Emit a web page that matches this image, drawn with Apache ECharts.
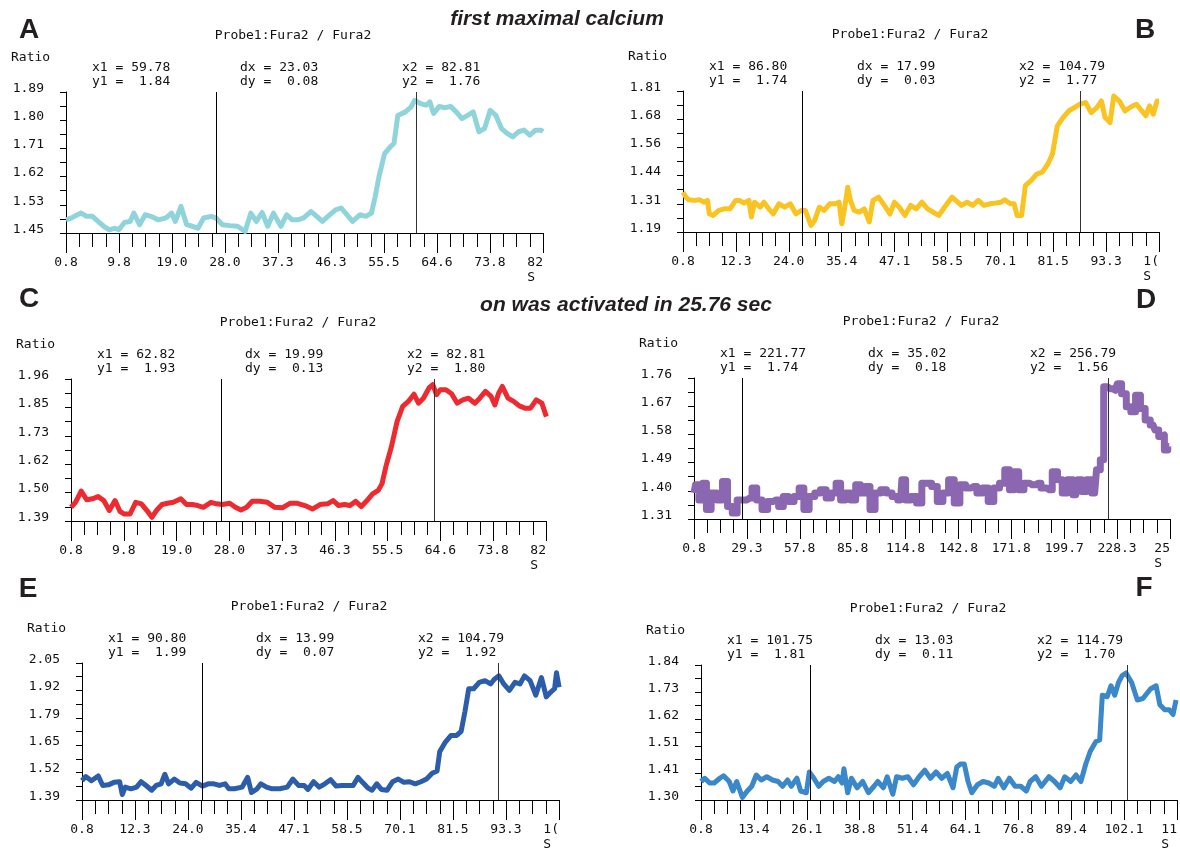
<!DOCTYPE html>
<html><head><meta charset="utf-8">
<script src="https://cdn.jsdelivr.net/npm/echarts@6/dist/echarts.min.js"></script>
<style>html,body{margin:0;padding:0;background:#fff}#c{width:1180px;height:852px}</style>
</head><body><div id="c"></div>
<script>
// ---------- Panel A ----------
const aTime=[0.8,1.77,2.75,3.40,4.37,5.34,6.32,7.29,8.26,9.24,9.89,10.86,11.83,12.48,13.46,14.43,15.40,16.70,18.0,18.97,19.62,20.59,21.57,22.54,23.52,24.49,25.79,26.63,27.73,29.03,30.33,31.63,32.60,33.57,34.55,35.52,36.50,37.79,38.77,39.74,40.71,41.69,42.99,43.96,44.93,46.23,47.20,48.18,49.15,50.12,51.42,52.40,53.37,54.02,54.67,55.64,56.61,57.26,57.91,59.21,60.18,60.83,61.81,62.78,63.43,64.08,65.05,66.02,67.0,67.97,68.95,69.92,70.89,71.87,72.84,73.81,74.79,75.76,76.73,77.71,78.68,79.65,80.63,81.60,82.57,82.90];
const aRatio=[1.491,1.497,1.507,1.512,1.502,1.502,1.486,1.471,1.460,1.465,1.460,1.483,1.486,1.512,1.476,1.507,1.502,1.491,1.497,1.512,1.486,1.533,1.476,1.471,1.465,1.497,1.502,1.497,1.476,1.473,1.471,1.455,1.512,1.486,1.514,1.471,1.512,1.471,1.507,1.491,1.491,1.497,1.517,1.502,1.486,1.507,1.522,1.528,1.507,1.486,1.507,1.502,1.512,1.564,1.626,1.698,1.719,1.730,1.817,1.828,1.843,1.864,1.854,1.849,1.859,1.823,1.845,1.841,1.845,1.828,1.807,1.817,1.828,1.766,1.776,1.833,1.817,1.776,1.761,1.750,1.766,1.771,1.755,1.771,1.771,1.766];
const aXLabels=['0.8','9.8','19.0','28.0','37.3','46.3','55.5','64.6','73.8','82'];
const aYLabels=['1.45','1.53','1.62','1.71','1.80','1.89'];
const aXMax=82.9;
const aCursors=[26.6,61.0];
const aReadout=['59.78','1.84','23.03','0.08','82.81','1.76'];

// ---------- Panel B ----------
const bTime=[0.8,1.46,2.03,3.27,4.50,5.32,6.14,6.55,7.38,8.61,9.84,11.08,12.31,13.13,14.12,15.19,15.76,16.42,17.65,18.47,19.54,20.53,21.76,22.99,24.23,25.46,26.69,27.52,28.75,29.57,30.56,31.63,32.86,34.09,34.91,35.49,36.15,36.80,37.38,38.20,39.27,40.42,41.49,42.31,43.54,44.78,46.01,47.0,48.07,49.30,50.53,51.76,53.0,54.23,55.46,56.70,57.93,59.57,60.81,61.63,62.86,64.09,65.33,66.56,67.79,69.03,70.26,71.08,72.31,73.14,73.79,74.78,75.60,76.84,78.07,79.30,80.53,81.52,82.59,83.82,85.06,86.29,87.52,88.75,89.99,91.22,92.21,93.03,94.10,94.92,96.15,97.39,98.62,99.85,101.08,101.91,102.73,103.55,104.37,104.78];
const bRatio=[1.365,1.343,1.332,1.329,1.332,1.321,1.329,1.270,1.263,1.285,1.292,1.292,1.329,1.329,1.317,1.329,1.256,1.321,1.299,1.321,1.292,1.270,1.314,1.299,1.314,1.270,1.285,1.285,1.219,1.241,1.299,1.285,1.314,1.314,1.321,1.226,1.299,1.387,1.329,1.285,1.277,1.292,1.234,1.329,1.343,1.307,1.270,1.321,1.299,1.263,1.307,1.292,1.321,1.292,1.277,1.263,1.299,1.343,1.321,1.307,1.321,1.307,1.329,1.307,1.314,1.317,1.321,1.332,1.314,1.314,1.263,1.263,1.394,1.416,1.445,1.453,1.489,1.533,1.657,1.693,1.722,1.737,1.752,1.759,1.715,1.737,1.766,1.693,1.671,1.788,1.766,1.722,1.740,1.752,1.722,1.701,1.745,1.708,1.766,1.766];
const bXLabels=['0.8','12.3','24.0','35.4','47.1','58.5','70.1','81.5','93.3','1('];
const bYLabels=['1.19','1.31','1.44','1.56','1.68','1.81'];
const bXMax=104.8;
const bCursors=[26.9,87.5];
const bReadout=['86.80','1.74','17.99','0.03','104.79','1.77'];

// ---------- Panel C ----------
const cTime=[0.8,1.58,2.56,3.53,4.51,5.48,6.46,7.43,8.41,9.25,10.03,11.01,11.98,12.96,13.93,14.78,15.56,16.53,17.51,18.48,19.78,20.76,21.73,22.71,23.68,24.98,25.96,26.93,28.23,29.21,30.18,31.16,32.13,33.43,34.73,36.03,37.33,38.63,39.93,41.23,42.53,43.83,45.13,46.11,47.08,48.06,49.03,50.01,50.98,51.96,52.93,53.91,54.56,55.21,56.18,57.16,58.13,59.11,60.08,60.86,61.71,62.68,63.33,63.98,64.63,65.61,66.58,67.56,68.53,69.51,70.61,71.46,72.43,73.41,74.06,74.71,75.36,76.33,77.31,78.28,79.26,80.23,81.21,82.18,82.96];
const cRatio=[1.445,1.465,1.510,1.475,1.479,1.488,1.472,1.432,1.472,1.429,1.418,1.418,1.465,1.459,1.432,1.405,1.432,1.456,1.461,1.465,1.479,1.456,1.456,1.452,1.445,1.465,1.459,1.456,1.461,1.445,1.434,1.445,1.469,1.469,1.465,1.445,1.443,1.461,1.461,1.452,1.438,1.456,1.459,1.472,1.452,1.456,1.452,1.469,1.448,1.472,1.499,1.513,1.540,1.607,1.688,1.789,1.850,1.870,1.899,1.863,1.883,1.924,1.937,1.897,1.917,1.917,1.901,1.863,1.876,1.883,1.863,1.883,1.910,1.890,1.856,1.903,1.930,1.883,1.870,1.852,1.843,1.843,1.876,1.863,1.809];
const cXLabels=['0.8','9.8','19.0','28.0','37.3','46.3','55.5','64.6','73.8','82'];
const cYLabels=['1.39','1.50','1.62','1.73','1.85','1.96'];
const cXMax=82.9;
const cCursors=[26.8,63.5];
const cReadout=['62.82','1.93','19.99','0.13','82.81','1.80'];

// ---------- Panel D ----------
const dTime=[0.8,2.42,4.45,6.48,8.50,11.54,14.58,17.62,20.06,22.69,25.33,27.76,30.80,33.23,35.87,38.91,41.95,44.99,47.62,50.06,53.10,56.14,58.57,61.20,64.25,67.29,70.33,73.37,76.0,78.43,80.87,83.50,86.54,88.97,91.61,94.24,96.67,99.71,102.75,105.80,108.84,111.88,113.30,115.93,118.97,122.01,124.65,127.08,130.12,133.16,136.20,139.24,142.28,145.33,148.37,151.41,154.45,157.49,160.53,163.57,166.61,169.25,171.68,174.11,176.75,179.79,182.83,185.87,188.91,191.95,194.99,197.62,200.06,203.10,206.14,208.17,210.60,213.23,216.28,218.30,220.33,221.95,224.38,227.42,229.45,232.08,234.52,236.95,239.59,242.22,244.65,247.69,249.72,251.75,252.76,254.79,256.41];
const dRatio=[1.393,1.419,1.371,1.424,1.340,1.393,1.371,1.430,1.350,1.329,1.371,1.371,1.377,1.409,1.371,1.340,1.366,1.371,1.350,1.382,1.366,1.382,1.409,1.340,1.382,1.393,1.403,1.377,1.393,1.424,1.371,1.393,1.371,1.419,1.393,1.414,1.340,1.393,1.403,1.393,1.382,1.371,1.435,1.371,1.382,1.361,1.424,1.424,1.414,1.366,1.393,1.435,1.361,1.419,1.409,1.414,1.393,1.409,1.366,1.409,1.424,1.467,1.403,1.461,1.403,1.424,1.419,1.424,1.409,1.403,1.461,1.435,1.393,1.435,1.387,1.435,1.398,1.435,1.393,1.467,1.499,1.732,1.726,1.721,1.742,1.710,1.668,1.652,1.705,1.663,1.626,1.610,1.594,1.573,1.578,1.530,1.541];
const dXLabels=['0.8','29.3','57.8','85.8','114.8','142.8','171.8','199.7','228.3','25'];
const dYLabels=['1.31','1.40','1.49','1.58','1.67','1.76'];
const dXMax=256.8;
const dCursors=[26.7,223.8];
const dReadout=['221.77','1.74','35.02','0.18','256.79','1.56'];

// ---------- Panel E ----------
const eTime=[0.8,1.62,2.85,4.33,5.32,6.55,7.78,9.01,9.58,10.24,11.47,12.70,13.69,14.76,15.99,16.97,18.04,18.86,19.68,20.91,22.15,23.38,24.61,25.68,27.07,28.30,29.54,30.77,32.0,32.82,34.05,35.69,36.92,37.75,38.98,39.80,41.03,42.26,43.90,45.54,46.78,48.01,49.24,50.06,51.29,52.52,53.75,54.99,56.22,57.45,58.68,59.91,60.98,61.96,63.20,64.02,65.08,66.07,67.30,68.53,69.76,70.99,72.23,73.46,74.69,75.92,77.15,78.22,78.80,80.03,81.26,82.49,83.47,84.30,85.12,86.18,87.42,88.65,89.88,90.70,91.69,92.75,93.98,95.22,96.29,97.27,98.50,99.73,100.97,102.03,103.01,103.84,104.25,104.82];
const eRatio=[1.483,1.503,1.483,1.506,1.460,1.463,1.475,1.478,1.416,1.452,1.444,1.452,1.478,1.460,1.437,1.460,1.468,1.514,1.468,1.491,1.472,1.468,1.447,1.475,1.457,1.468,1.468,1.460,1.468,1.444,1.444,1.452,1.499,1.426,1.444,1.468,1.452,1.444,1.444,1.452,1.491,1.460,1.460,1.441,1.478,1.452,1.468,1.488,1.457,1.460,1.460,1.460,1.499,1.475,1.447,1.437,1.468,1.441,1.437,1.478,1.491,1.475,1.478,1.468,1.478,1.491,1.519,1.530,1.623,1.669,1.701,1.701,1.721,1.817,1.926,1.926,1.957,1.965,1.949,1.972,1.988,1.949,1.918,1.957,1.949,1.988,1.965,1.895,1.980,1.887,1.910,1.926,2.003,1.933];
const eXLabels=['0.8','12.3','24.0','35.4','47.1','58.5','70.1','81.5','93.3','1('];
const eYLabels=['1.39','1.52','1.65','1.79','1.92','2.05'];
const eXMax=104.8;
const eCursors=[27.1,91.5];
const eReadout=['90.80','1.99','13.99','0.07','104.79','1.92'];

// ---------- Panel F ----------
const fTime=[0.8,1.7,2.87,3.95,5.3,6.2,7.55,8.45,9.35,10.7,11.87,12.95,14.03,15.2,16.55,17.9,19.25,20.33,21.5,22.4,23.75,24.65,26.0,26.72,27.8,28.97,30.05,31.4,32.75,33.65,34.55,35.0,35.9,36.8,38.15,39.5,40.85,42.2,43.1,44.45,45.35,46.7,47.6,48.95,50.3,51.65,53.0,54.35,55.7,57.05,58.4,59.75,61.1,62.0,62.9,63.8,64.7,65.6,66.95,68.3,69.65,71.0,71.9,73.25,74.6,75.95,77.3,78.65,79.55,80.9,82.25,84.05,85.4,86.75,87.83,89.27,90.53,91.7,92.87,93.95,95.3,96.2,96.83,98.0,98.9,99.8,100.7,101.6,102.5,103.85,105.2,106.55,108.35,109.7,110.6,111.77,112.85,113.75,114.47];
const fRatio=[1.374,1.387,1.368,1.368,1.387,1.397,1.374,1.336,1.374,1.310,1.336,1.355,1.400,1.380,1.393,1.380,1.374,1.355,1.380,1.355,1.387,1.336,1.329,1.412,1.387,1.355,1.374,1.387,1.374,1.393,1.368,1.425,1.329,1.387,1.349,1.374,1.329,1.355,1.374,1.349,1.393,1.323,1.393,1.387,1.393,1.361,1.393,1.419,1.387,1.412,1.387,1.406,1.349,1.432,1.444,1.444,1.374,1.329,1.361,1.374,1.368,1.355,1.387,1.349,1.387,1.355,1.355,1.336,1.374,1.393,1.355,1.393,1.374,1.349,1.393,1.374,1.400,1.374,1.444,1.495,1.534,1.540,1.719,1.713,1.757,1.719,1.770,1.798,1.808,1.770,1.700,1.706,1.744,1.757,1.681,1.661,1.661,1.642,1.700];
const fXLabels=['0.8','13.4','26.1','38.8','51.4','64.1','76.8','89.4','102.1','11'];
const fYLabels=['1.30','1.41','1.51','1.62','1.73','1.84'];
const fXMax=114.7;
const fCursors=[26.9,102.7];
const fReadout=['101.75','1.81','13.03','0.11','114.79','1.70'];

const panelTitle='Probe1:Fura2 / Fura2';
const headline1='first maximal calcium';
const headline2='on was activated in 25.76 sec';

// ---------- layout (positions / styles only) ----------
const layout=[
 {letter:'A',left:66, top:92, width:477,height:141,color:'#8fd4da',lw:5,lx:29,  ly:30},
 {letter:'B',left:683,top:91, width:476,height:141,color:'#f9c322',lw:5,lx:1145,ly:30},
 {letter:'C',left:71, top:379,width:475,height:142,color:'#ec2a2f',lw:5,lx:29,  ly:299},
 {letter:'D',left:694,top:378,width:476,height:141,color:'#8a67b0',lw:7,lx:1146,ly:300,step:'middle'},
 {letter:'E',left:82, top:663,width:477,height:142,color:'#2c5dab',lw:5,lx:28,  ly:589},
 {letter:'F',left:701,top:665,width:478,height:141,color:'#3a87c9',lw:5,lx:1144,ly:588}
];
const dataSets=[
 {time:aTime,ratio:aRatio,xl:aXLabels,yl:aYLabels,xMax:aXMax,cur:aCursors,ro:aReadout},
 {time:bTime,ratio:bRatio,xl:bXLabels,yl:bYLabels,xMax:bXMax,cur:bCursors,ro:bReadout},
 {time:cTime,ratio:cRatio,xl:cXLabels,yl:cYLabels,xMax:cXMax,cur:cCursors,ro:cReadout},
 {time:dTime,ratio:dRatio,xl:dXLabels,yl:dYLabels,xMax:dXMax,cur:dCursors,ro:dReadout},
 {time:eTime,ratio:eRatio,xl:eXLabels,yl:eYLabels,xMax:eXMax,cur:eCursors,ro:eReadout},
 {time:fTime,ratio:fRatio,xl:fXLabels,yl:fYLabels,xMax:fXMax,cur:fCursors,ro:fReadout}
];

const MONO="'DejaVu Sans Mono', 'Liberation Mono', monospace";
const FS=13;
const ink='#111';

const option={animation:false,backgroundColor:'#fff',grid:[],xAxis:[],yAxis:[],series:[],graphic:[]};

function mono(x,y,text,align){
  return {type:'text',x:x,y:y,silent:true,style:{text:text,font:FS+'px '+MONO,fill:ink,textAlign:align||'left',textVerticalAlign:'middle'}};
}

dataSets.forEach((d,i)=>{
  const L=layout[i];
  option.grid.push({left:L.left,top:L.top,width:L.width,height:L.height,containLabel:false});
  const xMin=parseFloat(d.xl[0]);
  const n=d.xl.length;
  const xStep=(d.xMax-xMin)/(n-1);
  const xMajor=d.xl.map((_,k)=>k===n-1?d.xMax:xMin+k*xStep);
  const xMinor=[];
  for(let k=0;k<=(n-1)*4;k++) xMinor.push(k===(n-1)*4?d.xMax:xMin+k*xStep/4);
  const yMin=parseFloat(d.yl[0]);
  const m=d.yl.length;
  const yMax=parseFloat(d.yl[m-1]);
  const yStep=(yMax-yMin)/(m-1);
  const yMajor=d.yl.map((_,k)=>k===m-1?yMax:yMin+k*yStep);
  const yTicks=[];
  for(let k=0;k<=(m-1)*2;k++) yTicks.push(k===(m-1)*2?yMax:yMin+k*yStep/2);

  option.xAxis.push({
    type:'value',gridIndex:i,position:'bottom',min:xMin,max:d.xMax,
    axisLine:{show:true,onZero:false,lineStyle:{color:'#000',width:1}},
    axisTick:{show:true,length:20,customValues:xMajor,lineStyle:{color:'#000',width:1}},
    axisLabel:{show:true,customValues:xMajor,margin:22,fontFamily:MONO,fontSize:FS,color:ink,lineHeight:15,
      alignMaxLabel:'right',
      formatter:(v)=>{const k=Math.round((v-xMin)/xStep);return k===n-1?d.xl[k]+'\nS ':d.xl[k];}},
    splitLine:{show:false}
  });
  option.xAxis.push({
    type:'value',gridIndex:i,position:'bottom',min:xMin,max:d.xMax,
    axisLine:{show:false,onZero:false},
    axisTick:{show:true,length:14,customValues:xMinor,lineStyle:{color:'#000',width:1}},
    axisLabel:{show:false},splitLine:{show:false}
  });
  option.yAxis.push({
    type:'value',gridIndex:i,position:'left',min:yMin,max:yMax,
    axisLine:{show:true,onZero:false,lineStyle:{color:'#000',width:1}},
    axisTick:{show:true,length:6,customValues:yTicks,lineStyle:{color:'#000',width:1}},
    axisLabel:{show:true,customValues:yMajor,margin:22,fontFamily:MONO,fontSize:FS,color:ink,verticalAlign:'bottom',lineHeight:7,
      formatter:(v)=>d.yl[Math.round((v-yMin)/yStep)]},
    splitLine:{show:false}
  });
  option.series.push({
    type:'line',xAxisIndex:2*i,yAxisIndex:i,
    data:d.time.map((t,j)=>[t,d.ratio[j]]),
    showSymbol:false,symbol:'none',step:L.step||false,
    lineStyle:{color:L.color,width:L.lw,join:'round'},
    itemStyle:{color:L.color},
    markLine:{silent:true,symbol:['none','none'],label:{show:false},
      data:[{xAxis:d.cur[0],lineStyle:{color:'#000',width:1,type:'solid'}},
            {xAxis:d.cur[1],lineStyle:{color:'#333',width:1,type:'solid'}}]}
  });

  // texts around the panel
  const g=option.graphic;
  g.push({type:'text',x:L.lx,y:L.ly,silent:true,style:{text:L.letter,font:'bold 28px "Liberation Sans", Arial, sans-serif',fill:'#231f20',textAlign:'center',textVerticalAlign:'middle'}});
  g.push(mono(L.left+227,L.top-56,panelTitle,'center'));
  g.push(mono(L.left-55,L.top-34,'Ratio','left'));
  const pad=(s)=>s.padStart(5,' ');
  g.push(mono(L.left+26,L.top-24,'x1 = '+d.ro[0]));
  g.push(mono(L.left+26,L.top-10,'y1 = '+pad(d.ro[1])));
  g.push(mono(L.left+174,L.top-24,'dx = '+d.ro[2]));
  g.push(mono(L.left+174,L.top-10,'dy = '+pad(d.ro[3])));
  g.push(mono(L.left+336,L.top-24,'x2 = '+d.ro[4]));
  g.push(mono(L.left+336,L.top-10,'y2 = '+pad(d.ro[5])));
});

option.graphic.push({type:'text',x:557,y:19,silent:true,style:{text:headline1,font:'italic bold 21px "Liberation Sans", Arial, sans-serif',fill:'#231f20',textAlign:'center',textVerticalAlign:'middle'}});
option.graphic.push({type:'text',x:626,y:305,silent:true,style:{text:headline2,font:'italic bold 21px "Liberation Sans", Arial, sans-serif',fill:'#231f20',textAlign:'center',textVerticalAlign:'middle'}});

const chart=echarts.init(document.getElementById('c'),null,{renderer:'canvas'});
chart.setOption(option);
</script>
</body></html>
